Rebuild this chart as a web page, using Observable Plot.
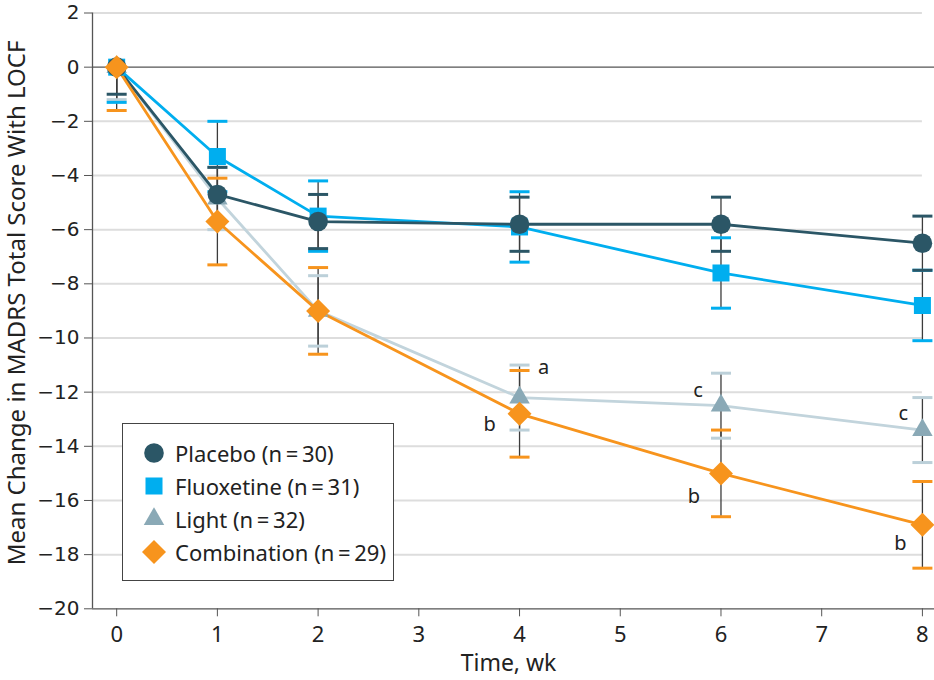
<!DOCTYPE html>
<html>
<head>
<meta charset="utf-8">
<script src="https://cdn.jsdelivr.net/npm/d3@7"></script>
<script src="https://cdn.jsdelivr.net/npm/@observablehq/plot@0.6"></script>
<style>
  body { margin: 0; background: white; }
  #wrap { position: relative; width: 934px; height: 680px; }
  #legend { position: absolute; left: 122px; top: 423px; width: 272px; height: 158px; border: 1.5px solid #444; background: white; box-sizing: border-box; font-family: "Noto Sans", sans-serif; font-size: 22px; color: #222; }
  .row { position: absolute; left: 0; height: 30px; display: flex; align-items: center; white-space: nowrap; }
  .row svg { margin-left: 18px; margin-right: 8px; }
  g[aria-label="cond"] text { font-family: "DejaVu Sans Condensed", "DejaVu Sans", sans-serif; font-stretch: condensed; }
</style>
</head>
<body>
<div id="wrap"><div id="chart"></div><div id="legend"></div></div>
<script>
const weeks = [0, 1, 2, 4, 6, 8];
const xTicks = [0, 1, 2, 3, 4, 5, 6, 7, 8];
const yTicks = [2, 0, -2, -4, -6, -8, -10, -12, -14, -16, -18, -20];

const placebo   = [0, -4.7, -5.7, -5.8, -5.8, -6.5];
const placeboLo = [-1.0, -5.7, -6.7, -6.8, -6.8, -7.5];
const placeboHi = [0, -3.7, -4.7, -4.8, -4.8, -5.5];

const fluoxetine   = [0, -3.3, -5.5, -5.9, -7.6, -8.8];
const fluoxetineLo = [-1.3, -4.6, -6.8, -7.2, -8.9, -10.1];
const fluoxetineHi = [0, -2.0, -4.2, -4.6, -6.3, -7.5];

const light   = [0, -4.85, -9.0, -12.2, -12.5, -13.4];
const lightLo = [-1.2, -6.0, -10.3, -13.4, -13.7, -14.6];
const lightHi = [0, -3.7, -7.7, -11.0, -11.3, -12.2];

const combination   = [0, -5.7, -9.0, -12.8, -15.0, -16.9];
const combinationLo = [-1.6, -7.3, -10.6, -14.4, -16.6, -18.5];
const combinationHi = [0, -4.1, -7.4, -11.2, -13.4, -15.3];

const seriesNames = ["Placebo", "Fluoxetine", "Light", "Combination"];
const seriesN = [30, 31, 32, 29];

const annotations = [
  {week: 4, y: -11.1, text: "a", dx: 24},
  {week: 4, y: -13.2, text: "b", dx: -30},
  {week: 6, y: -11.95, text: "c", dx: -23},
  {week: 6, y: -15.85, text: "b", dx: -27},
  {week: 8, y: -12.8, text: "c", dx: -19},
  {week: 8, y: -17.6, text: "b", dx: -22}
];

const yTitle = "Mean Change in MADRS Total Score With LOCF";
const xTitle = "Time, wk";

const styles = {
  Placebo:     {color: "#2b5666", line: "#2b5666", cap: "#2b5666", symbol: "circle", r: 9.8},
  Fluoxetine:  {color: "#00aeef", line: "#00aeef", cap: "#00aeef", symbol: "square", r: 9.6},
  Light:       {color: "#8aa9b6", line: "#c2d4dc", cap: "#bcd0d9", symbol: "triangle", r: 7.6},
  Combination: {color: "#f7941d", line: "#f7941d", cap: "#f7941d", symbol: "diamond2", r: 10.8}
};

const means = {Placebo: placebo, Fluoxetine: fluoxetine, Light: light, Combination: combination};
const lows  = {Placebo: placeboLo, Fluoxetine: fluoxetineLo, Light: lightLo, Combination: combinationLo};
const highs = {Placebo: placeboHi, Fluoxetine: fluoxetineHi, Light: lightHi, Combination: combinationHi};

const rows = seriesNames.flatMap(s => weeks.map((w, i) => ({series: s, week: w, mean: means[s][i], lo: lows[s][i], hi: highs[s][i]})));
const caps = rows.flatMap(d => {
  const out = [{series: d.series, week: d.week, v: d.lo}];
  if (d.hi !== d.mean) out.push({series: d.series, week: d.week, v: d.hi});
  return out;
});

const capSymbol = { draw(ctx) { ctx.moveTo(-10, 0); ctx.lineTo(10, 0); } };
const fmt = d => d < 0 ? "\u2212" + Math.abs(d) : String(d);

const drawOrder = ["Light", "Fluoxetine", "Placebo", "Combination"];
const xDomain = [-0.24, 8.12];
const yDomain = [-20, 2];

const chart = Plot.plot({
  width: 934,
  height: 680,
  marginLeft: 92,
  marginRight: 0,
  marginTop: 12.5,
  marginBottom: 71.7,
  x: {domain: xDomain},
  y: {domain: yDomain},
  style: {fontFamily: "Noto Sans, sans-serif", background: "white", color: "#222", overflow: "visible"},
  marks: [
    Plot.ruleY(yTicks.filter(d => d !== 0 && d !== -20), {y: d => d, x1: xDomain[0], x2: d3.max(weeks), stroke: "#dddddd", strokeWidth: 2}),
    Plot.ruleY([0], {stroke: "#555", strokeWidth: 1.3}),
    Plot.ruleY([yDomain[0]], {stroke: "#555", strokeWidth: 1.3}),
    Plot.ruleX([xDomain[0]], {stroke: "#555", strokeWidth: 1.3}),
    Plot.axisY({ticks: yTicks, tickSize: 8, tickFormat: () => "", stroke: "#555", label: null}),
    Plot.axisX({ticks: xTicks, tickSize: 8, tickFormat: () => "", stroke: "#555", label: null}),
    Plot.text(yTicks, {x: xDomain[0], y: d => d, text: fmt, textAnchor: "end", dx: -13, fontSize: 20, fontFamily: "DejaVu Sans, sans-serif", fill: "#222"}),
    Plot.text(xTicks, {x: d => d, y: yDomain[0], text: d => String(d), dy: 26, fontSize: 22, fill: "#222", ariaLabel: "cond"}),
    Plot.text([yTitle], {frameAnchor: "left", textAnchor: "middle", lineAnchor: "middle", dx: -75, dy: -8, rotate: -90, fontSize: 24, fill: "#222", ariaLabel: "cond"}),
    Plot.text([xTitle], {frameAnchor: "bottom", textAnchor: "middle", lineAnchor: "middle", dy: 55, dx: -5, fontSize: 23, fill: "#222", ariaLabel: "cond"}),
    Plot.ruleX(rows, {x: "week", y1: "lo", y2: "hi", stroke: "#3c3c3c", strokeWidth: 1.3}),
    ...drawOrder.map(s => Plot.dot(caps.filter(d => d.series === s), {x: "week", y: "v", symbol: capSymbol, fill: "none", stroke: styles[s].cap, strokeWidth: 3})),
    ...drawOrder.map(s => Plot.line(rows.filter(d => d.series === s), {x: "week", y: "mean", stroke: styles[s].line, strokeWidth: 2.8})),
    ...drawOrder.map(s => Plot.dot(rows.filter(d => d.series === s), {x: "week", y: "mean", symbol: styles[s].symbol, r: styles[s].r, fill: styles[s].color, stroke: "none"})),
    ...annotations.map(a => Plot.text([a], {x: "week", y: "y", text: "text", dx: a.dx, fontSize: 20, fill: "#222"}))
  ]
});
document.getElementById("chart").appendChild(chart);

const legend = document.getElementById("legend");
const rowTops = [14, 47, 80, 113];
seriesNames.forEach((s, i) => {
  const st = styles[s];
  const row = document.createElement("div");
  row.className = "row";
  row.style.top = rowTops[i] + "px";
  const sym = d3.symbol().type({circle: d3.symbolCircle, square: d3.symbolSquare, triangle: d3.symbolTriangle, diamond2: d3.symbolDiamond2}[st.symbol]).size(Math.PI * st.r * st.r)();
  row.innerHTML = `<svg width="26" height="26" viewBox="-13 -13 26 26"><path d="${sym}" fill="${st.color}"></path></svg><span>${s} (n\u2009=\u2009${seriesN[i]})</span>`;
  legend.appendChild(row);
});
</script>
</body>
</html>
